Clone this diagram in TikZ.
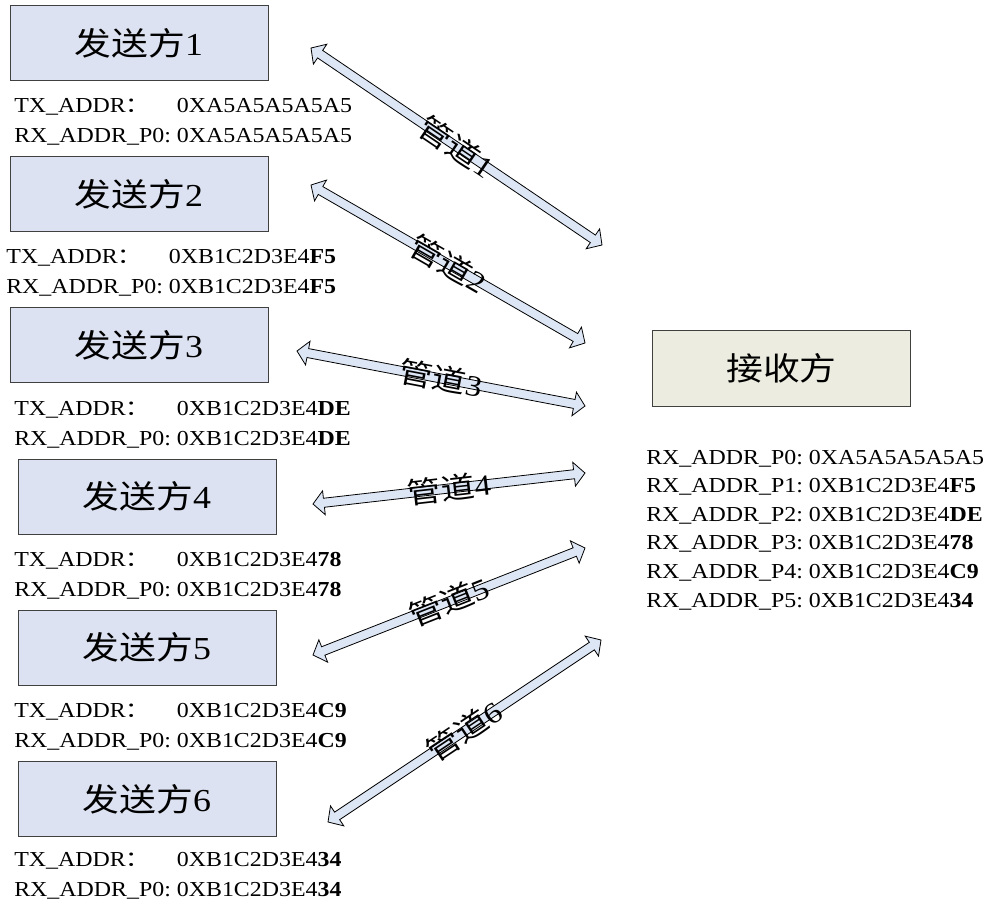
\documentclass[tikz,border=0pt]{standalone}
\usepackage{fontspec}
\setmainfont{Liberation Serif}[FakeStretch=1.12]
\newfontfamily\cjk{Noto Sans CJK SC}[FakeStretch=1.15]
\usetikzlibrary{calc}
\definecolor{sendblue}{HTML}{DCE2F1}
\definecolor{recvgrey}{HTML}{ECEDE0}
\definecolor{pipeblue}{HTML}{DDE6F5}

\begin{document}
\begin{tikzpicture}[
	x=0.75pt,
	y=-0.75pt,
	sender/.style={
		draw=black!75,
		line width=0.75pt,
		fill=sendblue,
		minimum width=193.5pt,
		minimum height=56.25pt,
		font=\fontsize{24}{28}\selectfont,
	},
	receiver/.style={
		sender,
		fill=recvgrey,
	},
	addr/.style={
		anchor=base west,
		inner sep=0pt,
		font=\fontsize{16}{22.5}\selectfont,
	},
	pipe/.style={
		draw=black,
		line width=0.6pt,
		fill=pipeblue,
		line join=miter,
	},
	pipelabel/.style={
		font=\fontsize{22}{26}\selectfont,
		inner sep=0pt,
	},
]
\useasboundingbox (0,0) rectangle (992,905);

% senders
\node[sender] (s1) at (139,43.5) {{\cjk 发送方}1};
\node[sender] (s2) at (139,194.5) {{\cjk 发送方}2};
\node[sender] (s3) at (139,345.5) {{\cjk 发送方}3};
\node[sender] (s4) at (147,496.5) {{\cjk 发送方}4};
\node[sender] (s5) at (147,647.5) {{\cjk 发送方}5};
\node[sender] (s6) at (147,799) {{\cjk 发送方}6};

% receiver
\node[receiver] (rx) at (781.5,368.5) {\cjk 接收方};

% addresses of the senders
\node[addr] (a1) at (14,113) {\begin{tabular}[t]{@{}l@{\ }l@{}}
TX\_ADDR{\cjk ：} & 0XA5A5A5A5A5\\
RX\_ADDR\_P0: & 0XA5A5A5A5A5
\end{tabular}};
\node[addr] (a2) at (6,264) {\begin{tabular}[t]{@{}l@{\ }l@{}}
TX\_ADDR{\cjk ：} & 0XB1C2D3E4\textbf{F5}\\
RX\_ADDR\_P0: & 0XB1C2D3E4\textbf{F5}
\end{tabular}};
\node[addr] (a3) at (14,415) {\begin{tabular}[t]{@{}l@{\ }l@{}}
TX\_ADDR{\cjk ：} & 0XB1C2D3E4\textbf{DE}\\
RX\_ADDR\_P0: & 0XB1C2D3E4\textbf{DE}
\end{tabular}};
\node[addr] (a4) at (14,566) {\begin{tabular}[t]{@{}l@{\ }l@{}}
TX\_ADDR{\cjk ：} & 0XB1C2D3E4\textbf{78}\\
RX\_ADDR\_P0: & 0XB1C2D3E4\textbf{78}
\end{tabular}};
\node[addr] (a5) at (14,717) {\begin{tabular}[t]{@{}l@{\ }l@{}}
TX\_ADDR{\cjk ：} & 0XB1C2D3E4\textbf{C9}\\
RX\_ADDR\_P0: & 0XB1C2D3E4\textbf{C9}
\end{tabular}};
\node[addr] (a6) at (14,866) {\begin{tabular}[t]{@{}l@{\ }l@{}}
TX\_ADDR{\cjk ：} & 0XB1C2D3E4\textbf{34}\\
RX\_ADDR\_P0: & 0XB1C2D3E4\textbf{34}
\end{tabular}};

% addresses of the receiver
\node[addr, font=\fontsize{16}{21.45}\selectfont] (ra) at (646,464) {\begin{tabular}[t]{@{}l@{\ }l@{}}
RX\_ADDR\_P0: & 0XA5A5A5A5A5\\
RX\_ADDR\_P1: & 0XB1C2D3E4\textbf{F5}\\
RX\_ADDR\_P2: & 0XB1C2D3E4\textbf{DE}\\
RX\_ADDR\_P3: & 0XB1C2D3E4\textbf{78}\\
RX\_ADDR\_P4: & 0XB1C2D3E4\textbf{C9}\\
RX\_ADDR\_P5: & 0XB1C2D3E4\textbf{34}
\end{tabular}};

% pipe ends
\coordinate (p1a) at (311,48);
\coordinate (p1b) at (602,245);
\coordinate (p2a) at (311,185);
\coordinate (p2b) at (585,343);
\coordinate (p3a) at (297,351);
\coordinate (p3b) at (585,406);
\coordinate (p4a) at (313,504);
\coordinate (p4b) at (585,473);
\coordinate (p5a) at (313,655);
\coordinate (p5b) at (585,548);
\coordinate (p6a) at (328,822);
\coordinate (p6b) at (601,640);

% pipes
\foreach \i in {1,...,6}{
	\coordinate (h\i a) at ($(p\i a)!8.25pt!(p\i b)$);
	\coordinate (h\i b) at ($(p\i b)!8.25pt!(p\i a)$);
	\draw[pipe] (p\i a)
		-- ($(h\i a)!9pt!90:(p\i b)$) -- ($(h\i a)!3.4pt!90:(p\i b)$)
		-- ($(h\i b)!3.4pt!-90:(p\i a)$) -- ($(h\i b)!9pt!-90:(p\i a)$)
		-- (p\i b)
		-- ($(h\i b)!9pt!90:(p\i a)$) -- ($(h\i b)!3.4pt!90:(p\i a)$)
		-- ($(h\i a)!3.4pt!-90:(p\i b)$) -- ($(h\i a)!9pt!-90:(p\i b)$)
		-- cycle;
	\path (p\i a) -- node[pipelabel, sloped] (l\i) {{\cjk 管道}\i} (p\i b);
}
\end{tikzpicture}
\end{document}
